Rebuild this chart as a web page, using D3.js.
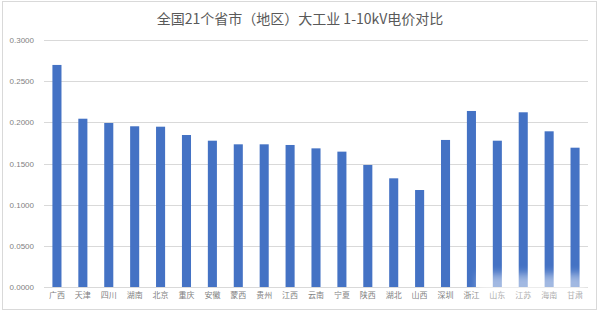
<!DOCTYPE html>
<html><head><meta charset="utf-8">
<script src="https://cdn.jsdelivr.net/npm/d3@7"></script>
<style>html,body{margin:0;padding:0;background:#fff;}svg{display:block;}</style>
</head><body>
<svg id="c" width="600" height="313"></svg>
<script>
const title = "全国21个省市（地区）大工业 1-10kV电价对比";
const categories = ["广西","天津","四川","湖南","北京","重庆","安徽","蒙西","贵州","江西","云南","宁夏","陕西","湖北","山西","深圳","浙江","山东","江苏","海南","甘肃"];
const values = [0.2697,0.2044,0.1992,0.1952,0.1947,0.1846,0.1777,0.1733,0.1733,0.1725,0.1684,0.1644,0.1482,0.1320,0.1178,0.1786,0.2138,0.1777,0.2122,0.1891,0.1692];
const yTicks = [0,0.05,0.1,0.15,0.2,0.25,0.3];

const svg = d3.select("#c");
const cjk = "'Noto Sans CJK SC','Noto Sans',sans-serif";
const num = "'Liberation Sans','Noto Sans',sans-serif";

// chart frame
svg.append("rect").attr("x",2.5).attr("y",1.5).attr("width",594).attr("height",308)
  .attr("fill","#fff").attr("stroke","#d9d9d9").attr("stroke-width",1);

const x = d3.scaleBand().domain(categories).range([44,588]).paddingInner(0.65).paddingOuter(0.325);
const y = d3.scaleLinear().domain([0,0.3]).range([287,40]);

// gridlines
svg.append("g").selectAll("line").data(yTicks.filter(d=>d>0)).join("line")
  .attr("x1",44).attr("x2",588).attr("y1",d=>Math.round(y(d))+0.5).attr("y2",d=>Math.round(y(d))+0.5)
  .attr("stroke","#d9d9d9").attr("stroke-width",1);

// y axis labels
const yAxis = d3.axisLeft(y).tickValues(yTicks).tickFormat(d3.format(".4f")).tickSize(0).tickPadding(0);
const ya = svg.append("g").attr("transform","translate(34,0)").call(yAxis);
ya.select(".domain").remove();
ya.selectAll("text").attr("font-family",num).attr("font-size",8).attr("fill","#7f7f7f");

// bars
svg.append("g").selectAll("rect").data(values).join("rect")
  .attr("x",(d,i)=>x(categories[i])).attr("width",x.bandwidth())
  .attr("y",d=>y(d)).attr("height",d=>y(0)-y(d)).attr("fill","#4472c4");

// baseline
svg.append("line").attr("x1",44).attr("x2",588).attr("y1",287.5).attr("y2",287.5)
  .attr("stroke","#d9d9d9").attr("stroke-width",1);

// x axis labels
const xAxis = d3.axisBottom(x).tickSize(0).tickPadding(0);
const xa = svg.append("g").attr("transform","translate(0,292)").call(xAxis);
xa.select(".domain").remove();
xa.selectAll("text").attr("font-family",cjk).attr("font-size",8).attr("fill","#7f7f7f");

// title
svg.append("text").attr("x",300).attr("y",24).attr("text-anchor","middle")
  .attr("font-family",cjk).attr("font-size",14).attr("fill","#595959").text(title);

// soft white blur (as in the reference bottom-right)
const defs = svg.append("defs");
defs.append("filter").attr("id","bl").attr("x","-20%").attr("y","-50%").attr("width","140%").attr("height","200%")
  .append("feGaussianBlur").attr("stdDeviation",4);
svg.append("rect").attr("x",478).attr("y",274).attr("width",108).attr("height",24)
  .attr("fill","#fff").attr("opacity",0.5).attr("filter","url(#bl)");
</script>
</body></html>
